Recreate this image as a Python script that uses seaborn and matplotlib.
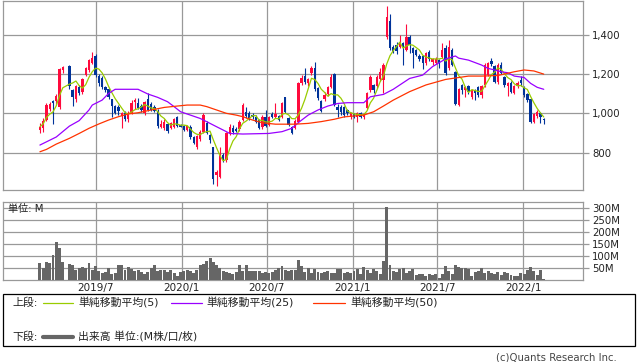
import matplotlib
matplotlib.use('Agg')
import matplotlib.pyplot as plt
import matplotlib.dates as mdates
from matplotlib.patches import Rectangle
from matplotlib.lines import Line2D
import numpy as np
import pandas as pd
import seaborn as sns

sns.set_style('white')
plt.rcParams['font.family'] = ['DejaVu Sans', 'Noto Sans CJK JP']

# Weekly bars from 2019-03-04; no trading in Golden Week 2019
weeks = pd.date_range('2019-03-04', periods=155, freq='7D')
weeks = weeks[weeks != pd.Timestamp('2019-04-29')]

open_ = [915, 925, 966, 1020, 1064, 1064, 1030, 1218, 1240, 1118,
         1071, 1132, 1110, 1195, 1220, 1257, 1290, 1190, 1180, 1135,
         1125, 1071, 1037, 1030, 986, 1003, 970, 1000, 1060, 1050,
         1037, 1000, 1071, 1047, 1034, 1014, 932, 924, 946, 924,
         929, 980, 939, 936, 915, 932, 878, 827, 868, 907,
         953, 890, 827, 687, 678, 788, 763, 898, 924, 920,
         918, 966, 1008, 1000, 992, 983, 966, 929, 983, 941,
         997, 980, 986, 983, 1081, 975, 932, 924, 957, 1152,
         1189, 1152, 1203, 1228, 1130, 1064, 1071, 1098, 1135, 1200,
         1030, 1034, 1030, 1017, 980, 997, 980, 1003, 980, 1025,
         1118, 1145, 1138, 1172, 1169, 1385, 1470, 1338, 1347, 1338,
         1355, 1321, 1389, 1330, 1321, 1291, 1291, 1254, 1313, 1262,
         1254, 1270, 1284, 1330, 1228, 1321, 1211, 1042, 1143, 1118,
         1138, 1084, 1118, 1132, 1093, 1143, 1195, 1267, 1240, 1160,
         1245, 1182, 1138, 1155, 1105, 1138, 1169, 1132, 1098, 1071,
         958, 987, 1000, 970]
high = [949, 975, 1050, 1060, 1068, 1100, 1230, 1240, 1245, 1125,
        1145, 1145, 1180, 1235, 1275, 1311, 1300, 1200, 1190, 1140,
        1130, 1075, 1042, 1040, 1005, 1010, 1010, 1070, 1080, 1080,
        1045, 1065, 1101, 1060, 1040, 1020, 965, 970, 950, 955,
        975, 985, 945, 940, 940, 940, 885, 890, 915, 1000,
        960, 895, 830, 710, 830, 800, 905, 945, 940, 930,
        965, 1050, 1030, 1010, 1000, 990, 970, 990, 1017, 985,
        1005, 1050, 990, 1060, 1085, 980, 935, 970, 1160, 1195,
        1228, 1180, 1240, 1262, 1135, 1070, 1110, 1140, 1200, 1205,
        1045, 1040, 1037, 1020, 1005, 1000, 1005, 1008, 1000, 1110,
        1195, 1150, 1195, 1230, 1255, 1545, 1505, 1345, 1360, 1400,
        1360, 1455, 1400, 1335, 1325, 1300, 1295, 1310, 1320, 1280,
        1285, 1275, 1355, 1345, 1372, 1330, 1215, 1130, 1150, 1140,
        1145, 1125, 1125, 1140, 1145, 1255, 1262, 1280, 1245, 1255,
        1260, 1190, 1160, 1165, 1145, 1165, 1190, 1140, 1105, 1075,
        1000, 1015, 1005, 975]
low = [898, 907, 960, 1010, 945, 1040, 1020, 1205, 1125, 1038,
       1060, 1095, 1100, 1190, 1210, 1250, 1185, 1140, 1125, 1110,
       1075, 983, 995, 990, 925, 960, 958, 995, 1020, 1020,
       1005, 990, 1010, 1010, 1005, 925, 925, 915, 900, 920,
       925, 930, 930, 910, 910, 870, 845, 820, 860, 900,
       895, 850, 640, 632, 670, 755, 755, 890, 895, 905,
       910, 960, 975, 965, 970, 950, 918, 920, 930, 935,
       975, 975, 960, 975, 1000, 935, 895, 918, 950, 1145,
       1150, 1140, 1195, 1115, 1070, 1005, 1065, 1090, 1130, 1035,
       983, 990, 983, 990, 970, 975, 958, 975, 970, 1020,
       1110, 1105, 1130, 1165, 1105, 1375, 1320, 1305, 1300, 1330,
       1245, 1315, 1308, 1228, 1290, 1265, 1223, 1245, 1265, 1245,
       1250, 1228, 1280, 1195, 1220, 1240, 1040, 1035, 1100, 1085,
       1100, 1075, 1067, 1085, 1080, 1135, 1190, 1240, 1155, 1150,
       1200, 1135, 1090, 1105, 1100, 1130, 1140, 1085, 1060, 952,
       950, 975, 950, 945]
close = [932, 962, 1042, 1047, 1054, 1088, 1223, 1237, 1138, 1084,
         1138, 1105, 1174, 1228, 1270, 1279, 1195, 1152, 1132, 1118,
         1084, 1037, 1003, 1010, 1000, 970, 1000, 1054, 1067, 1025,
         1017, 1059, 1017, 1017, 1014, 936, 946, 957, 912, 949,
         970, 936, 932, 915, 936, 881, 851, 885, 907, 990,
         902, 864, 665, 704, 800, 763, 898, 932, 905, 912,
         957, 1042, 986, 975, 980, 958, 927, 980, 936, 980,
         980, 997, 966, 1050, 1008, 940, 902, 963, 1152, 1177,
         1160, 1172, 1228, 1122, 1076, 1013, 1093, 1132, 1186, 1042,
         1017, 1008, 992, 1000, 1000, 983, 1000, 983, 997, 1101,
         1186, 1118, 1186, 1211, 1245, 1490, 1330, 1313, 1318, 1355,
         1338, 1385, 1347, 1304, 1296, 1274, 1254, 1304, 1274, 1274,
         1274, 1254, 1321, 1203, 1338, 1245, 1047, 1122, 1118, 1132,
         1110, 1118, 1101, 1093, 1138, 1245, 1254, 1250, 1160, 1245,
         1206, 1143, 1152, 1110, 1138, 1155, 1152, 1093, 1067, 958,
         997, 1008, 980, 965]
# volume, millions of shares
volume = [70, 49, 75, 73, 105, 159, 135, 77,
          67, 63, 42, 49, 53, 49, 70, 42, 59, 39,
          28, 35, 49, 25, 31, 63, 63, 42, 53, 46,
          39, 42, 35, 25, 35, 49, 61, 39, 42, 42,
          35, 42, 28, 17, 35, 39, 42, 38, 31, 42,
          61, 67, 78, 91, 77, 63, 49, 39, 35, 28,
          25, 35, 63, 39, 63, 39, 39, 39, 39, 31,
          35, 31, 35, 42, 49, 59, 42, 39,
          40, 42, 84, 59, 35, 49, 31, 46, 35, 28,
          35, 39, 31, 28, 46, 46, 28, 35, 31, 39,
          45, 25, 56, 42, 28, 46, 39, 25, 81, 307,
          63, 39, 32, 45, 49, 28, 39, 45, 21, 25,
          25, 17, 25, 21, 25, 7, 25, 59, 39, 25,
          63, 56, 49, 49, 45, 17, 35, 39, 49, 31,
          39, 28, 25, 35, 21, 35, 28, 21, 17, 17,
          28, 25, 42, 56, 39, 21, 42, 3]

# 25- and 50-week moving averages
ma25_dates = ['2019-03-04', '2019-04-08', '2019-05-06', '2019-05-27', '2019-06-17',
              '2019-06-24', '2019-07-15', '2019-07-29', '2019-08-12', '2019-09-30',
              '2019-10-21', '2019-11-11', '2019-12-02', '2019-12-16', '2019-12-30',
              '2020-01-20', '2020-02-10', '2020-03-02', '2020-03-16', '2020-04-06',
              '2020-04-13', '2020-05-11', '2020-07-06', '2020-08-03', '2020-08-24',
              '2020-09-07', '2020-09-28', '2020-10-19', '2020-11-09', '2020-11-30',
              '2020-12-21', '2021-01-25', '2021-02-08', '2021-03-08', '2021-03-29',
              '2021-05-03', '2021-05-31', '2021-06-21', '2021-07-19', '2021-08-09',
              '2021-08-16', '2021-09-06', '2021-10-04', '2021-10-18', '2021-11-01',
              '2021-11-15', '2021-11-29', '2021-12-13', '2022-01-03', '2022-01-17',
              '2022-01-31', '2022-02-14']
ma25_vals = [839, 880, 935, 963, 1017, 1042, 1067, 1101, 1122, 1122,
             1098, 1081, 1059, 1034, 1008, 991, 974, 949, 932, 907,
             898, 895, 898, 907, 924, 953, 991, 1017, 1037, 1050,
             1054, 1054, 1084, 1096, 1122, 1177, 1194, 1237, 1276, 1291,
             1280, 1270, 1245, 1228, 1220, 1211, 1206, 1189, 1182, 1152,
             1132, 1122]
ma50_dates = ['2019-03-04', '2019-03-18', '2019-04-08', '2019-05-06', '2019-05-27',
              '2019-06-17', '2019-07-08', '2019-07-29', '2019-08-19', '2019-09-09',
              '2019-09-30', '2019-10-28', '2019-11-25', '2019-12-23', '2020-01-13',
              '2020-02-10', '2020-02-24', '2020-03-16', '2020-04-06', '2020-04-27',
              '2020-05-11', '2020-06-01', '2020-06-22', '2020-07-20', '2020-08-31',
              '2020-09-28', '2020-10-26', '2020-11-23', '2020-12-14', '2021-01-25',
              '2021-02-15', '2021-03-08', '2021-03-29', '2021-05-03', '2021-06-07',
              '2021-07-19', '2021-09-06', '2021-10-04', '2021-11-08', '2021-12-13',
              '2022-01-03', '2022-01-24', '2022-02-14']
ma50_vals = [805, 817, 844, 873, 898, 924, 946, 966, 983, 997,
             1003, 1017, 1030, 1037, 1042, 1042, 1034, 1017, 1000, 991,
             983, 966, 952, 945, 945, 949, 958, 970, 982, 991,
             1008, 1037, 1067, 1110, 1144, 1172, 1189, 1189, 1192, 1211,
             1220, 1215, 1199]

month_ticks = ['2019-07-01', '2020-01-01', '2020-07-01', '2021-01-01', '2021-07-01', '2022-01-01']
month_labels = ['2019/7', '2020/1', '2020/7', '2021/1', '2021/7', '2022/1']
price_ticks = [800, 1000, 1200, 1400]
vol_ticks = [50, 100, 150, 200, 250, 300]

RED, BLUE = '#ff0a3c', '#003399'
GRID = '#999999'

df = pd.DataFrame({'date': weeks, 'open': open_, 'high': high, 'low': low,
                   'close': close, 'volume': volume})
df['x'] = mdates.date2num(df['date'])
df['ma5'] = df['close'].rolling(5, min_periods=1).mean()
ma25 = pd.DataFrame({'x': mdates.date2num(pd.to_datetime(ma25_dates)), 'v': ma25_vals})
ma50 = pd.DataFrame({'x': mdates.date2num(pd.to_datetime(ma50_dates)), 'v': ma50_vals})

W, H = 638, 362
fig = plt.figure(figsize=(W / 100, H / 100), dpi=100)
ax = fig.add_axes([3 / W, 1 - 190 / H, 580 / W, 189 / H])
axv = fig.add_axes([3 / W, 1 - 280 / H, 580 / W, 78 / H])

x0 = mdates.date2num(pd.Timestamp('2019-03-04'))
xlim = (x0 - 79, x0 + 1162)
tick_x = mdates.date2num(pd.to_datetime(month_ticks))

# candles
up = df['close'] >= df['open']
colors = np.where(up, RED, BLUE)
ax.vlines(df['x'], df['low'], df['high'], colors=colors, lw=0.8, zorder=3)
body_lo = np.minimum(df['open'], df['close'])
body_h = np.maximum((df['close'] - df['open']).abs(), 3)
ax.bar(df['x'], body_h, bottom=body_lo, width=5.0, color=colors, linewidth=0, zorder=3)

sns.lineplot(data=df, x='x', y='ma5', ax=ax, color='#99cc00', lw=0.9, zorder=4)
sns.lineplot(data=ma25, x='x', y='v', ax=ax, color='#9900ff', lw=0.9, zorder=4)
sns.lineplot(data=ma50, x='x', y='v', ax=ax, color='#ff3300', lw=0.9, zorder=4)

ax.set_xlim(*xlim)
ax.set_ylim(611, 1570)
ax.set_yticks(price_ticks)
ax.set_yticklabels([f'{p:,}' for p in price_ticks])
ax.set_xticks(tick_x)
ax.yaxis.tick_right()
ax.tick_params(axis='y', length=4, color=GRID, width=0.9, pad=2.5, labelsize=7.3, labelcolor='#222222')
ax.tick_params(axis='x', length=0, labelbottom=False)
ax.grid(True, color=GRID, lw=0.9)
ax.set_axisbelow(True)
ax.set_xlabel('')
ax.set_ylabel('')

# volume
axv.bar(df['x'], df['volume'], width=6.3, color='#666666', linewidth=0, zorder=3)
axv.set_xlim(*xlim)
axv.set_ylim(0, 327)
axv.set_yticks(vol_ticks)
axv.set_yticklabels([f'{v}M' for v in vol_ticks])
axv.set_xticks(tick_x)
axv.set_xticklabels(month_labels)
axv.yaxis.tick_right()
axv.tick_params(axis='y', length=4, color=GRID, width=0.9, pad=2.5, labelsize=7.3, labelcolor='#222222')
axv.tick_params(axis='x', length=0, pad=2, labelsize=7.5, labelcolor='#222222')
axv.grid(True, color=GRID, lw=0.9)
axv.set_axisbelow(True)
axv.text(0.008, 0.91, '単位: M', transform=axv.transAxes, fontsize=7.3, va='center', color='#222222')

for a in (ax, axv):
    for s in a.spines.values():
        s.set_color(GRID)
        s.set_linewidth(0.9)

# legend box
def fx(px):
    return px / W

def fy(py):
    return 1 - py / H

fig.add_artist(Rectangle((fx(3), fy(346)), 632 / W, 52 / H, transform=fig.transFigure,
                         fill=False, edgecolor='black', lw=0.9))
fs = 7.8
fig.text(fx(12), fy(303), '上段:', fontsize=fs, va='center', color='#222222')
fig.add_artist(Line2D([fx(43), fx(73)], [fy(303)] * 2, color='#99cc00', lw=0.9))
fig.text(fx(78), fy(303), '単純移動平均(5)', fontsize=fs, va='center', color='#222222')
fig.add_artist(Line2D([fx(171), fx(202)], [fy(303)] * 2, color='#9900ff', lw=0.9))
fig.text(fx(206), fy(303), '単純移動平均(25)', fontsize=fs, va='center', color='#222222')
fig.add_artist(Line2D([fx(313), fx(345)], [fy(303)] * 2, color='#ff3300', lw=0.9))
fig.text(fx(350), fy(303), '単純移動平均(50)', fontsize=fs, va='center', color='#222222')
fig.text(fx(12), fy(337), '下段:', fontsize=fs, va='center', color='#222222')
fig.add_artist(Line2D([fx(43), fx(73)], [fy(337)] * 2, color='#666666', lw=3))
fig.text(fx(78), fy(337), '出来高 単位:(M株/口/枚)', fontsize=fs, va='center', color='#222222')
fig.text(fx(617), fy(357), '(c)Quants Research Inc.', fontsize=7.3, va='center', ha='right', color='#444444')

fig.savefig('out.png', dpi=100)
